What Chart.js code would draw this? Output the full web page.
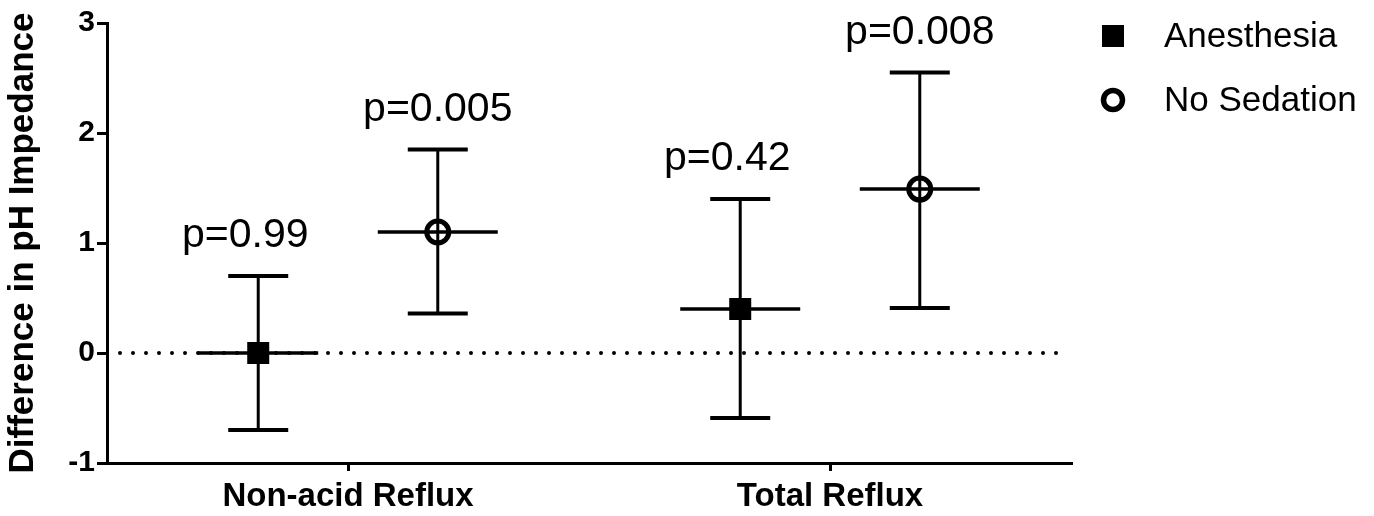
<!DOCTYPE html>
<html>
<head>
<meta charset="utf-8">
<script src="https://cdn.jsdelivr.net/npm/chart.js@4"></script>
<style>
  html, body { margin: 0; padding: 0; background: #fff; }
  #wrap { width: 1374px; height: 516px; }
</style>
</head>
<body>
<div id="wrap"><canvas id="chart" width="1374" height="516"></canvas></div>
<script>
  const categories = ["Non-acid Reflux", "Total Reflux"];
  const yTitle = "Difference in pH Impedance";

  const anesthesiaMean = [0.00, 0.40];
  const anesthesiaLow = [-0.70, -0.59];
  const anesthesiaHigh = [0.70, 1.40];
  const anesthesiaP = ["p=0.99", "p=0.42"];

  const noSedationMean = [1.10, 1.49];
  const noSedationLow = [0.36, 0.41];
  const noSedationHigh = [1.85, 2.55];
  const noSedationP = ["p=0.005", "p=0.008"];

  const FONT = "'Liberation Sans', Arial, Helvetica, sans-serif";
  const INK = "#000";

  // error bars, mean lines, markers and p labels drawn on top of invisible bars
  const errorBarPlugin = {
    id: "errorBars",
    beforeDatasetsDraw(chart) {
      const { ctx, chartArea, scales: { y } } = chart;
      const y0 = y.getPixelForValue(0);
      ctx.save();
      ctx.strokeStyle = INK;
      ctx.lineWidth = 4;
      ctx.lineCap = "round";
      ctx.setLineDash([0, 13]);
      ctx.beginPath();
      ctx.moveTo(chartArea.left + 13, y0);
      ctx.lineTo(chartArea.right - 5, y0);
      ctx.stroke();
      ctx.restore();
    },
    afterDatasetsDraw(chart) {
      const { ctx, scales: { y } } = chart;
      chart.data.datasets.forEach((ds, di) => {
        const meta = chart.getDatasetMeta(di);
        meta.data.forEach((bar, i) => {
          const x = bar.x;
          const ym = y.getPixelForValue(ds.data[i]);
          const yl = y.getPixelForValue(ds.low[i]);
          const yh = y.getPixelForValue(ds.high[i]);
          ctx.save();
          ctx.strokeStyle = INK;
          ctx.lineCap = "butt";
          // whisker
          ctx.lineWidth = 3;
          ctx.beginPath();
          ctx.moveTo(x, yl);
          ctx.lineTo(x, yh);
          ctx.stroke();
          // caps
          ctx.lineWidth = 4;
          ctx.beginPath();
          ctx.moveTo(x - 30, yh); ctx.lineTo(x + 30, yh);
          ctx.moveTo(x - 30, yl); ctx.lineTo(x + 30, yl);
          ctx.stroke();
          // mean line
          ctx.lineWidth = 3.5;
          ctx.beginPath();
          ctx.moveTo(x - 60, ym); ctx.lineTo(x + 60, ym);
          ctx.stroke();
          // marker
          if (ds.marker === "square") {
            ctx.fillStyle = INK;
            ctx.fillRect(x - 11, ym - 11, 22, 22);
          } else {
            ctx.lineWidth = 5;
            ctx.beginPath();
            ctx.arc(x, ym, 11, 0, Math.PI * 2);
            ctx.stroke();
          }
          // p label
          ctx.fillStyle = INK;
          ctx.font = "41px " + FONT;
          ctx.textAlign = "center";
          ctx.textBaseline = "alphabetic";
          ctx.fillText(ds.pLabels[i], x + ds.labelShift, yh - 29);
          ctx.restore();
        });
      });
    },
    afterDraw(chart) {
      const { ctx } = chart;
      const lx = 1113, rows = [36, 100];
      ctx.save();
      chart.data.datasets.forEach((ds, di) => {
        const cy = rows[di];
        ctx.fillStyle = INK;
        ctx.strokeStyle = INK;
        if (ds.marker === "square") {
          ctx.fillRect(lx - 11, cy - 11, 22, 22);
        } else {
          ctx.lineWidth = 5.5;
          ctx.beginPath();
          ctx.arc(lx, cy, 9.5, 0, Math.PI * 2);
          ctx.stroke();
        }
        ctx.font = "35px " + FONT;
        ctx.textAlign = "left";
        ctx.textBaseline = "middle";
        ctx.fillText(ds.label, 1164, cy + 1);
      });
      ctx.restore();
    }
  };

  new Chart(document.getElementById("chart"), {
    type: "bar",
    data: {
      labels: categories,
      datasets: [
        {
          label: "Anesthesia", data: anesthesiaMean, low: anesthesiaLow, high: anesthesiaHigh,
          pLabels: anesthesiaP, marker: "square", labelShift: -13,
          backgroundColor: "rgba(0,0,0,0)", borderWidth: 0
        },
        {
          label: "No Sedation", data: noSedationMean, low: noSedationLow, high: noSedationHigh,
          pLabels: noSedationP, marker: "circle", labelShift: 0,
          backgroundColor: "rgba(0,0,0,0)", borderWidth: 0
        }
      ]
    },
    options: {
      responsive: false,
      animation: false,
      events: [],
      categoryPercentage: 0.745,
      barPercentage: 1,
      layout: { padding: { top: 23, right: 303, left: 0, bottom: 0 } },
      plugins: { legend: { display: false }, tooltip: { enabled: false } },
      scales: {
        x: {
          offset: true,
          grid: { offset: false, drawOnChartArea: false, drawTicks: true, tickLength: 8, lineWidth: 3, color: INK },
          border: { display: true, width: 3, color: INK },
          ticks: { color: INK, font: { family: FONT, size: 33, weight: "bold" }, padding: 6, maxRotation: 0 },
          afterFit: s => { s.height = 53; }
        },
        y: {
          min: -1, max: 3,
          ticks: { stepSize: 1, color: INK, font: { family: FONT, size: 30, weight: "bold" }, padding: 2 },
          grid: { drawOnChartArea: false, drawTicks: true, tickLength: 10, lineWidth: 3, color: INK },
          border: { display: true, width: 3, color: INK },
          title: { display: true, text: yTitle, color: INK, font: { family: FONT, size: 35, weight: "bold" }, padding: { top: 2, bottom: 0 } },
          afterFit: s => { s.width = 107; }
        }
      }
    },
    plugins: [errorBarPlugin]
  });
</script>
</body>
</html>
